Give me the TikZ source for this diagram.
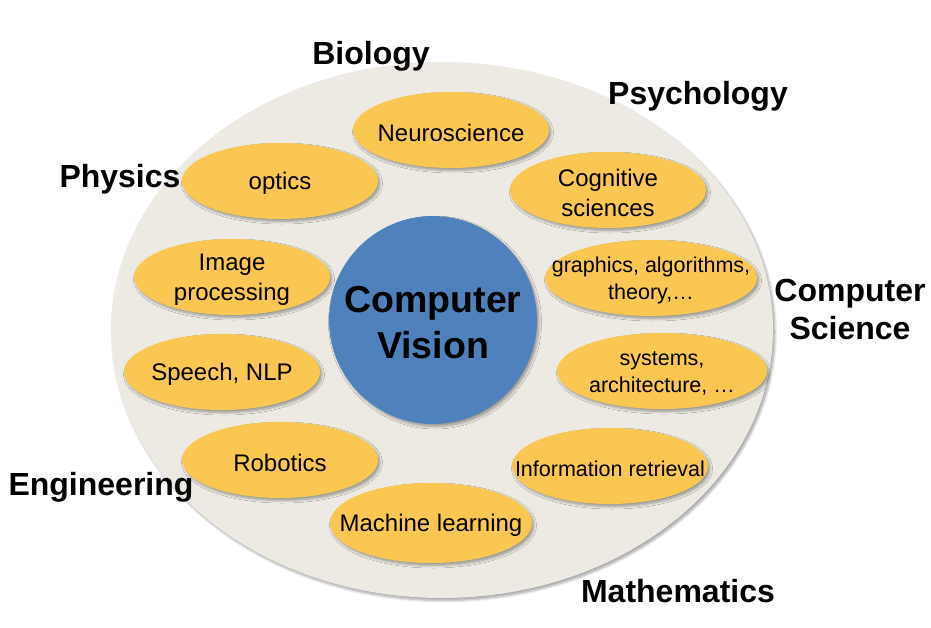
\documentclass[tikz,border=0pt]{standalone}
\usepackage{fontspec}
\setmainfont{Liberation Sans}
\usetikzlibrary{shapes.geometric,shadows.blur}
\definecolor{bgell}{HTML}{ECEAE2}
\definecolor{yel}{HTML}{FAC852}
\definecolor{cvblue}{HTML}{4F81BD}
\tikzset{
  x=1pt,y=-1pt,
  soft/.style={blur shadow={shadow blur steps=6, shadow xshift=2pt, shadow yshift=-2.5pt, shadow opacity=35, shadow blur radius=2.5pt}},
  topic/.style={ellipse, fill=yel, inner sep=0pt, minimum width=196pt, minimum height=76pt, soft},
  ttext/.style={align=center, inner sep=0pt, yshift=-2.5pt, font=\fontsize{24}{30}\selectfont},
  stext/.style={align=center, inner sep=0pt, yshift=-2.5pt, font=\fontsize{21.5}{27.5}\selectfont},
  field/.style={font=\bfseries\fontsize{32}{38}\selectfont, align=center, inner sep=0pt, yshift=-3pt},
}
\begin{document}
\begin{tikzpicture}
\useasboundingbox (0,0) rectangle (931,627);
\node[ellipse, fill=bgell, minimum width=662pt, minimum height=536pt, inner sep=0pt, soft] (bg) at (442,330) {};
% yellow topic ellipses
\node[topic] (neuro) at (451,130) {};
\node[topic] (optics) at (280,181) {};
\node[topic] (cog) at (608,190) {};
\node[topic, minimum width=212pt] (graph) at (651,278) {};
\node[topic] (img) at (232,277) {};
\node[topic] (speech) at (222,372) {};
\node[topic, minimum width=210pt] (sys) at (662,371) {};
\node[topic] (robot) at (280,460) {};
\node[topic] (ir) at (610,466) {};
\node[topic, minimum width=202pt, minimum height=80pt] (ml) at (431,523) {};
% topic texts
\node[ttext] (neuro-t) at (neuro) {Neuroscience};
\node[ttext] (optics-t) at (optics) {optics};
\node[ttext] (cog-t) at (cog) {Cognitive\\sciences};
\node[stext] (graph-t) at (graph) {graphics, algorithms,\\theory,\dots};
\node[ttext] (img-t) at (img) {Image\\processing};
\node[ttext] (speech-t) at (speech) {Speech, NLP};
\node[stext] (sys-t) at (sys) {systems,\\architecture, \dots};
\node[ttext] (robot-t) at (robot) {Robotics};
\node[stext] (ir-t) at (ir) {Information retrieval};
\node[ttext] (ml-t) at (ml) {Machine learning};
% centre
\node[circle, fill=cvblue, minimum size=208pt, inner sep=0pt, soft] (cv) at (433,320) {};
\node[align=center, inner sep=0pt, yshift=-3pt, font=\bfseries\fontsize{37.5}{46}\selectfont] (cv-t) at (cv) {Computer\\Vision};
% fields
\node[field] (bio) at (371,53) {Biology};
\node[field] (psy) at (698,93) {Psychology};
\node[field] (phys) at (120,176) {Physics};
\node[field] (cs) at (850,306) {Computer\\Science};
\node[field] (eng) at (101,484) {Engineering};
\node[field] (math) at (678,588) {Mathematics};
\end{tikzpicture}
\end{document}
